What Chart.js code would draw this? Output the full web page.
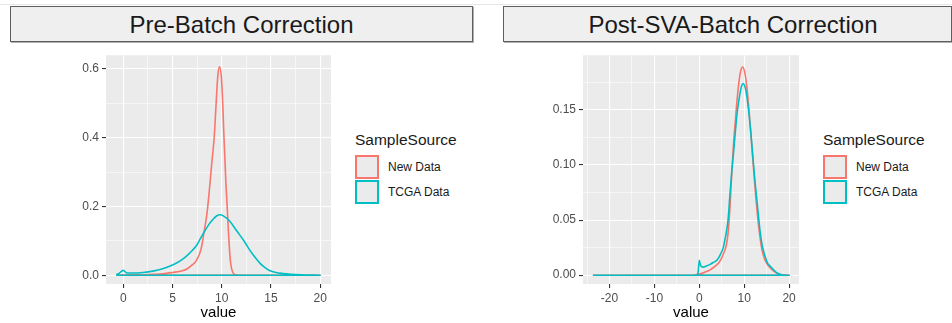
<!DOCTYPE html>
<html lang="en">

<head>
  <meta charset="UTF-8">
  <title>Pre / Post SVA Batch Correction</title>
  <script src="https://cdn.jsdelivr.net/npm/chart.js"></script>
  <style>
    body {
      margin: 0;
      width: 952px;
      height: 323px;
      position: relative;
      overflow: hidden;
      background: #fff;
      font-family: "Liberation Sans", Arial, sans-serif;
    }
    .top-line {
      position: absolute;
      left: 0;
      top: 4px;
      width: 952px;
      height: 1px;
      background: #e6e6e6;
    }
    .panel-title {
      position: absolute;
      top: 6px;
      height: 36px;
      box-sizing: border-box;
      border: 1px solid #5e5e5e;
      box-shadow: 1px 1px 0 #b0b0b0;
      background: #efefef;
      color: #1a1a1a;
      font-size: 24px;
      line-height: 36px;
      text-align: center;
    }
    .panel {
      position: absolute;
      top: 45px;
    }
    .legend {
      position: absolute;
      top: 131px;
      color: #1a1a1a;
    }
    .legend-title {
      font-size: 15.5px;
      line-height: 18px;
      margin-bottom: 5px;
    }
    .legend-item {
      display: flex;
      align-items: center;
      height: 25px;
      font-size: 12px;
    }
    .legend-key {
      width: 24px;
      height: 24px;
      box-sizing: border-box;
      border: 2px solid;
      background: #ebebeb;
      margin-right: 9px;
    }
  </style>
</head>

<body>
  <div class="top-line"></div>

  <div class="panel-title" style="left: 10px; width: 463px;">Pre-Batch Correction</div>
  <div class="panel-title" style="left: 503px; width: 449px; padding-left: 11px;">Post-SVA-Batch Correction</div>

  <canvas id="chart-pre" class="panel" style="left: 0px;" width="335" height="278"></canvas>
  <canvas id="chart-post" class="panel" style="left: 480px;" width="325" height="278"></canvas>

  <div class="legend" style="left: 355px;" id="legend-pre"></div>
  <div class="legend" style="left: 823px;" id="legend-post"></div>

  <script>
    // groups and colours
    const groups = ['New Data', 'TCGA Data'];
    const groupColors = ['#F8766D', '#00BFC4'];
    const legendTitle = 'SampleSource';

    // Pre-Batch Correction: density curves (value, density)
    const preNewX = [-0.72, 1, 2, 3, 4, 5, 6, 6.5, 7, 7.4, 7.9, 8.2, 8.5, 8.75, 9.0, 9.23, 9.43, 9.6, 9.77,
      9.95, 10.1, 10.2, 10.42, 10.55, 10.68, 10.85, 11.0, 11.2, 11.4, 12, 20];
    const preNewY = [0, 0.001, 0.0015, 0.0025, 0.004, 0.008, 0.013, 0.019, 0.03, 0.042, 0.076, 0.125, 0.18, 0.25, 0.33, 0.40, 0.50, 0.58, 0.606,
      0.58, 0.50, 0.42, 0.27, 0.2, 0.127, 0.05, 0.019, 0.005, 0.001, 0, 0];
    const preTcgaX = [-0.72, -0.4, -0.2, 0, 0.2, 0.4, 1, 2, 3, 4, 5, 5.5, 6, 6.5, 7, 7.4, 7.8, 8.2, 8.7, 9.1, 9.5, 9.84,
      10.2, 10.8, 11.5, 12.3, 12.85, 13.3, 13.85, 14.3, 14.85, 15.5, 16.2, 17, 18, 19, 20];
    const preTcgaY = [0.002, 0.006, 0.011, 0.014, 0.01, 0.0065, 0.0065, 0.008, 0.012, 0.019, 0.03, 0.037, 0.046, 0.058, 0.072, 0.085, 0.105, 0.125, 0.148, 0.162, 0.173, 0.176,
      0.172, 0.158, 0.13, 0.098, 0.073, 0.055, 0.036, 0.024, 0.014, 0.008, 0.005, 0.003, 0.0015, 0.0007, 0];

    // Post-SVA-Batch Correction
    const postNewX = [-23.7, -2, -1, 0, 0.8, 1.6, 2.4, 3.1, 4.0, 4.7, 5.33, 6.0, 6.4, 6.8, 7.2, 7.6, 8.0, 8.4, 8.8, 9.2, 9.64,
      10.1, 10.6, 11.0, 11.4, 11.8, 12.2, 12.6, 13.0, 13.5, 14.0, 14.6, 15.2, 15.7, 16.5, 17.2, 18, 20];
    const postNewY = [0, 0, 0.0002, 0.001, 0.002, 0.0033, 0.0048, 0.0068, 0.0098, 0.0135, 0.019, 0.027, 0.038, 0.06, 0.09, 0.118, 0.139, 0.159, 0.1745, 0.185, 0.189,
      0.1845, 0.17, 0.153, 0.133, 0.111, 0.09, 0.07, 0.0525, 0.035, 0.022, 0.014, 0.0095, 0.007, 0.004, 0.002, 0.0006, 0];
    const postTcgaX = [-23.7, -1, -0.4, -0.2, 0, 0.2, 0.5, 0.9, 1.5, 2.4, 3.1, 4.0, 4.6, 5.33, 5.7, 6.1, 6.4, 6.8, 7.2, 7.6, 8.0, 8.44, 8.9, 9.3, 9.78,
      10.3, 10.7, 11.1, 11.5, 12.0, 12.5, 12.9, 13.5, 14.0, 14.6, 15.2, 15.7, 16.5, 17.2, 18.0, 18.6, 20];
    const postTcgaY = [0, 0, 0.0005, 0.005, 0.0135, 0.01, 0.0078, 0.0073, 0.0082, 0.0098, 0.0115, 0.014, 0.018, 0.025, 0.032, 0.041, 0.05, 0.072, 0.093, 0.11, 0.129, 0.148, 0.161, 0.17, 0.174,
      0.169, 0.159, 0.145, 0.128, 0.104, 0.081, 0.065, 0.041, 0.027, 0.0177, 0.011, 0.0085, 0.005, 0.0024, 0.0008, 0.0002, 0];

    // tick values (major = labelled, minor = grid only)
    const preXMajor = [0, 5, 10, 15, 20];
    const preXMinor = [2.5, 7.5, 12.5, 17.5];
    const preYMajor = [0, 0.2, 0.4, 0.6];
    const preYMinor = [0.1, 0.3, 0.5];
    const postXMajor = [-20, -10, 0, 10, 20];
    const postXMinor = [-25, -15, -5, 5, 15];
    const postYMajor = [0, 0.05, 0.1, 0.15];
    const postYMinor = [0.025, 0.075, 0.125, 0.175];

    Chart.defaults.font.family = '"Liberation Sans", Arial, sans-serif';

    // grey ggplot panel behind the grid
    const panelBackground = {
      id: 'panelBackground',
      beforeDraw(chart) {
        const { ctx, chartArea } = chart;
        ctx.save();
        ctx.fillStyle = '#ebebeb';
        ctx.fillRect(chartArea.left, chartArea.top, chartArea.right - chartArea.left, chartArea.bottom - chartArea.top);
        ctx.restore();
      }
    };

    // density outline, closed along the baseline like geom_density
    function densityPoints(xs, ys) {
      const pts = xs.map((x, i) => ({ x: x, y: ys[i] }));
      pts.push({ x: xs[xs.length - 1], y: 0 });
      pts.push({ x: xs[0], y: 0 });
      return pts;
    }

    function axis(major, minor, min, max, decimals, extra) {
      const isMajor = ctx => ctx.tick && major.includes(ctx.tick.value);
      return Object.assign({
        type: 'linear',
        min: min,
        max: max,
        afterBuildTicks: scale => {
          scale.ticks = major.concat(minor).sort((a, b) => a - b).map(v => ({ value: v }));
        },
        ticks: {
          autoSkip: false,
          maxRotation: 0,
          color: '#4d4d4d',
          font: { size: 12 },
          padding: 3,
          callback: v => major.includes(v) ? (decimals === null ? String(v) : v.toFixed(decimals)) : ''
        },
        grid: {
          color: '#ffffff',
          lineWidth: ctx => isMajor(ctx) ? 1.1 : 0.55,
          tickColor: ctx => isMajor(ctx) ? '#333333' : 'rgba(0,0,0,0)',
          tickLength: 4
        },
        border: { display: false }
      }, extra);
    }

    function makeChart(id, newX, newY, tcgaX, tcgaY, xScale, yScale, padding) {
      return new Chart(document.getElementById(id), {
        type: 'scatter',
        data: {
          datasets: [
            {
              label: groups[0],
              data: densityPoints(newX, newY),
              borderColor: groupColors[0],
              order: 1
            },
            {
              label: groups[1],
              data: densityPoints(tcgaX, tcgaY),
              borderColor: groupColors[1],
              order: 0
            }
          ]
        },
        options: {
          responsive: false,
          animation: false,
          showLine: true,
          layout: { padding: padding },
          elements: {
            point: { radius: 0, hoverRadius: 0 },
            line: { borderWidth: 1.6, cubicInterpolationMode: 'monotone', borderJoinStyle: 'round', fill: false }
          },
          plugins: {
            legend: { display: false },
            tooltip: { enabled: false }
          },
          scales: { x: xScale, y: yScale }
        },
        plugins: [panelBackground]
      });
    }

    const xTitle = { display: true, text: 'value', color: '#000000', font: { size: 15 }, padding: { top: 0, bottom: 1 } };

    makeChart('chart-pre', preNewX, preNewY, preTcgaX, preTcgaY,
      axis(preXMajor, preXMinor, -1.76, 21.1, null, { title: xTitle, afterFit: s => { s.height = 39; } }),
      axis(preYMajor, preYMinor, -0.0255, 0.64, 1, { afterFit: s => { s.width = 106; } }),
      { left: 0, right: 4, top: 4, bottom: 0 });

    makeChart('chart-post', postNewX, postNewY, postTcgaX, postTcgaY,
      axis(postXMajor, postXMinor, -25.9, 22.2, null, { title: xTitle, afterFit: s => { s.height = 39; } }),
      axis(postYMajor, postYMinor, -0.008, 0.1997, 2, { afterFit: s => { s.width = 103; } }),
      { left: 0, right: 6, top: 5, bottom: 0 });

    // ggplot style legends beside each panel
    ['legend-pre', 'legend-post'].forEach(id => {
      const box = document.getElementById(id);
      let html = '<div class="legend-title">' + legendTitle + '</div>';
      groups.forEach((g, i) => {
        html += '<div class="legend-item"><div class="legend-key" style="border-color: ' + groupColors[i] + ';"></div>' + g + '</div>';
      });
      box.innerHTML = html;
    });
  </script>
</body>

</html>
